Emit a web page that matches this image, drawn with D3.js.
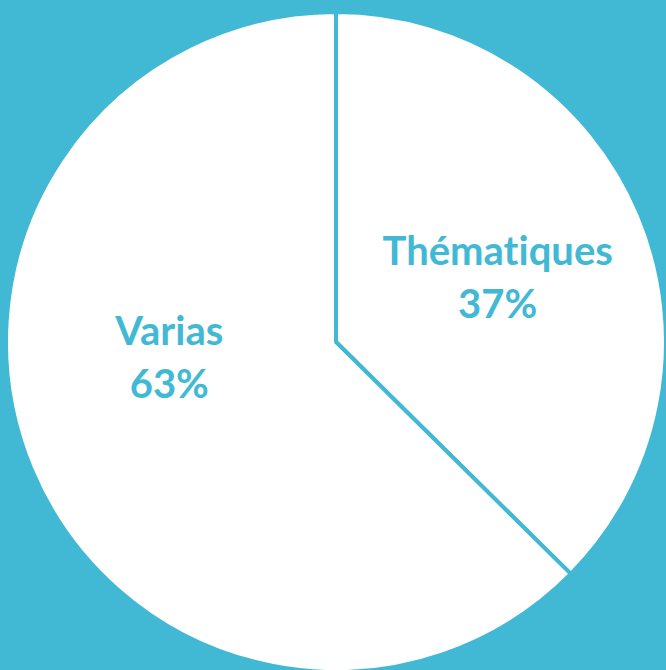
<!DOCTYPE html>
<html>
<head>
<meta charset="utf-8">
<script src="https://cdn.jsdelivr.net/npm/d3@7"></script>
<style>
  html, body { margin: 0; padding: 0; background: #42b9d4; overflow: hidden; }
</style>
</head>
<body>
<div id="chart"></div>
<script>
// data
var categories = ['Thématiques', 'Varias'];
var values = [37.4, 62.6];

var attrs = {
  svgWidth: 666,
  svgHeight: 670,
  cx: 336,
  cy: 342,
  radius: 330,
  bg: '#42b9d4',
  fontFamily: 'Lato, "Open Sans", sans-serif',
  fontSize: 40
};

// label nudges relative to the slice centroid (Excel-like placement)
var labelNudge = [[3, 4], [-8, -48]];

var svg = d3.select('#chart')
  .append('svg')
  .attr('width', attrs.svgWidth)
  .attr('height', attrs.svgHeight)
  .attr('font-family', attrs.fontFamily);

svg.append('rect')
  .attr('width', attrs.svgWidth)
  .attr('height', attrs.svgHeight)
  .attr('fill', attrs.bg);

var pie = d3.pie().sort(null).value(d => d.value);
var data = pie(categories.map((c, i) => ({ name: c, value: values[i] })));

var arc = d3.arc().innerRadius(0).outerRadius(attrs.radius);
var labelArc = d3.arc().innerRadius(172).outerRadius(172);

var chart = svg.append('g')
  .attr('transform', 'translate(' + attrs.cx + ',' + attrs.cy + ')');

chart.selectAll('path')
  .data(data)
  .enter()
  .append('path')
  .attr('d', arc)
  .attr('fill', 'white')
  .attr('stroke', attrs.bg)
  .attr('stroke-width', 4)
  .attr('stroke-linejoin', 'round');

var labels = chart.selectAll('.label')
  .data(data)
  .enter()
  .append('text')
  .attr('class', 'label')
  .attr('text-anchor', 'middle')
  .attr('font-size', attrs.fontSize)
  .attr('font-weight', 'bold')
  .style('font-variant-ligatures', 'none')
  .attr('fill', attrs.bg)
  .attr('transform', (d, i) => {
    var c = labelArc.centroid(d);
    return 'translate(' + (c[0] + labelNudge[i][0]) + ',' + (c[1] + labelNudge[i][1]) + ')';
  });

labels.append('tspan')
  .attr('x', 0)
  .attr('y', -15)
  .text(d => d.data.name);

labels.append('tspan')
  .attr('x', 0)
  .attr('y', 38)
  .text(d => Math.round(d.data.value) + '%');
</script>
</body>
</html>
